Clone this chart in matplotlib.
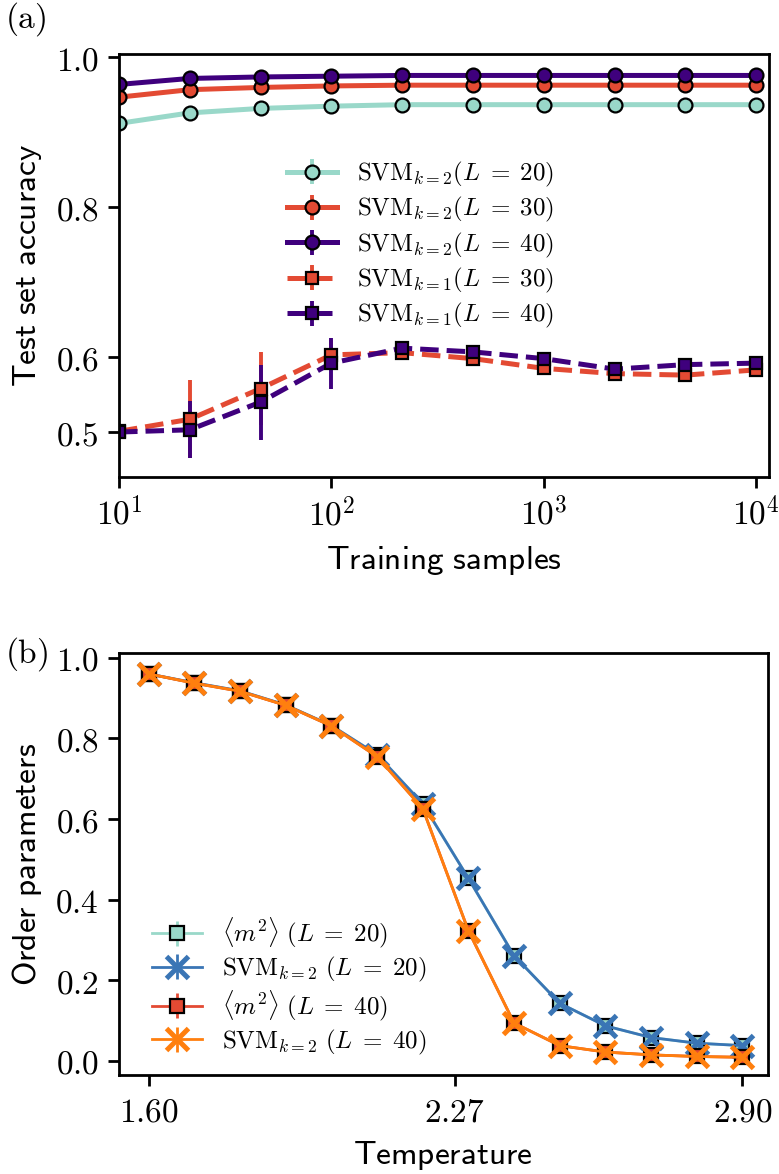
import numpy as np
import matplotlib
matplotlib.use("Agg")
from matplotlib import pyplot as plt
from matplotlib.ticker import FixedLocator, FuncFormatter, NullLocator

plt.rcParams['mathtext.fontset'] = 'cm'
plt.rcParams['axes.linewidth'] = 1.0

# (a) test accuracy vs number of training samples
n_train = [10, 21.5, 46.4, 100, 215, 464, 1000, 2154, 4642, 10000]

acc_k2_L20 = [0.912, 0.926, 0.932, 0.935, 0.937, 0.937, 0.937, 0.937, 0.937, 0.937]
acc_k2_L30 = [0.947, 0.957, 0.960, 0.962, 0.963, 0.963, 0.963, 0.963, 0.963, 0.963]
acc_k2_L40 = [0.964, 0.972, 0.974, 0.975, 0.976, 0.976, 0.976, 0.976, 0.976, 0.976]
err_k2 = [0.003, 0.002, 0.002, 0.001, 0.001, 0.001, 0.001, 0.001, 0.001, 0.001]

acc_k1_L30 = [0.501, 0.517, 0.558, 0.603, 0.606, 0.598, 0.585, 0.578, 0.576, 0.583]
err_k1_L30 = [0.003, 0.052, 0.049, 0.020, 0.006, 0.005, 0.004, 0.004, 0.004, 0.003]
acc_k1_L40 = [0.500, 0.503, 0.540, 0.592, 0.612, 0.607, 0.598, 0.584, 0.590, 0.592]
err_k1_L40 = [0.003, 0.038, 0.050, 0.034, 0.006, 0.005, 0.004, 0.004, 0.003, 0.003]

# (b) order parameters vs temperature
temps = [1.6, 1.7, 1.8, 1.9, 2.0, 2.1, 2.2, 2.3, 2.4, 2.5, 2.6, 2.7, 2.8, 2.9]
m2_L20 = [0.960, 0.938, 0.918, 0.883, 0.832, 0.760, 0.638, 0.453, 0.261, 0.143, 0.087, 0.058, 0.044, 0.038]
svm_L20 = [0.960, 0.938, 0.918, 0.883, 0.832, 0.760, 0.638, 0.453, 0.261, 0.143, 0.087, 0.058, 0.044, 0.038]
m2_L40 = [0.960, 0.937, 0.917, 0.882, 0.831, 0.755, 0.626, 0.323, 0.094, 0.038, 0.022, 0.015, 0.011, 0.009]
svm_L40 = [0.960, 0.937, 0.917, 0.882, 0.831, 0.755, 0.626, 0.323, 0.094, 0.038, 0.022, 0.015, 0.011, 0.009]
err_T = [0.003] * 14

teal = '#99d8c9'
red = '#e34a33'
purple = '#3f007d'
blue = '#3a75b5'
orange = '#ff7f0e'

fs = 12
lfs = 9

fig = plt.figure(figsize=(779 / 200, 1174 / 200), dpi=200)
ax1 = fig.add_axes([0.1528, 0.5937, 0.8345, 0.3599])
ax2 = fig.add_axes([0.1528, 0.0843, 0.8325, 0.3595])

ax1.errorbar(n_train, acc_k2_L20, yerr=err_k2, color=teal, lw=1.8, marker='o', ms=5,
             mfc=teal, mec='k', mew=0.8, elinewidth=1.4, label=r'$\mathrm{SVM}_{k=2}(L\;=\;20)$')
ax1.errorbar(n_train, acc_k2_L30, yerr=err_k2, color=red, lw=1.8, marker='o', ms=5,
             mfc=red, mec='k', mew=0.8, elinewidth=1.4, label=r'$\mathrm{SVM}_{k=2}(L\;=\;30)$')
ax1.errorbar(n_train, acc_k2_L40, yerr=err_k2, color=purple, lw=1.8, marker='o', ms=5,
             mfc=purple, mec='k', mew=0.8, elinewidth=1.4, label=r'$\mathrm{SVM}_{k=2}(L\;=\;40)$')
ax1.errorbar(n_train, acc_k1_L30, yerr=err_k1_L30, color=red, lw=1.8, ls='--', marker='s', ms=4.5,
             mfc=red, mec='k', mew=0.8, elinewidth=1.4, label=r'$\mathrm{SVM}_{k=1}(L\;=\;30)$')
ax1.errorbar(n_train, acc_k1_L40, yerr=err_k1_L40, color=purple, lw=1.8, ls='--', marker='s', ms=4.5,
             mfc=purple, mec='k', mew=0.8, elinewidth=1.4, label=r'$\mathrm{SVM}_{k=1}(L\;=\;40)$')

ax1.set_xscale('log')
ax1.set_xlim(10, 11500)
ax1.set_ylim(0.44, 1.004)
ax1.xaxis.set_major_locator(FixedLocator([10, 100, 1000, 10000]))
ax1.xaxis.set_minor_locator(NullLocator())
ax1.xaxis.set_major_formatter(FuncFormatter(lambda v, p: r'$10^{%d}$' % round(np.log10(v))))
ax1.yaxis.set_major_locator(FixedLocator([0.5, 0.6, 0.8, 1.0]))
ax1.yaxis.set_major_formatter(FuncFormatter(lambda v, p: r'$%.1f$' % v))
ax1.set_xlabel(r'$\mathsf{Training\ samples}$', fontsize=fs)
ax1.set_ylabel(r'$\mathsf{Test\ set\ accuracy}$', fontsize=fs)
ax1.legend(loc='upper left', bbox_to_anchor=(0.243, 0.774), frameon=False, fontsize=lfs,
           borderaxespad=0, labelspacing=0.25)

ax2.errorbar(temps, m2_L20, yerr=err_T, color=teal, lw=1.0, marker='s', ms=5,
             mfc=teal, mec='k', mew=0.8, label=r'$\langle m^2\rangle\ (L\;=\;20)$')
ax2.errorbar(temps, svm_L20, yerr=err_T, color=blue, lw=1.0, marker='x', ms=8,
             mew=1.8, label=r'$\mathrm{SVM}_{k=2}\ (L\;=\;20)$')
ax2.errorbar(temps, m2_L40, yerr=err_T, color=red, lw=1.0, marker='s', ms=5,
             mfc=red, mec='k', mew=0.8, label=r'$\langle m^2\rangle\ (L\;=\;40)$')
ax2.errorbar(temps, svm_L40, yerr=err_T, color=orange, lw=1.0, marker='x', ms=8,
             mew=1.8, label=r'$\mathrm{SVM}_{k=2}\ (L\;=\;40)$')

ax2.set_xlim(1.535, 2.955)
ax2.set_ylim(-0.035, 1.012)
ax2.xaxis.set_major_locator(FixedLocator([1.60, 2.27, 2.90]))
ax2.xaxis.set_major_formatter(FuncFormatter(lambda v, p: r'$%.2f$' % v))
ax2.yaxis.set_major_locator(FixedLocator([0.0, 0.2, 0.4, 0.6, 0.8, 1.0]))
ax2.yaxis.set_major_formatter(FuncFormatter(lambda v, p: r'$%.1f$' % v))
ax2.set_xlabel(r'$\mathsf{Temperature}$', fontsize=fs)
ax2.set_ylabel(r'$\mathsf{Order\ parameters}$', fontsize=fs)
ax2.legend(loc='lower left', bbox_to_anchor=(0.035, 0.02), frameon=False, fontsize=lfs,
           borderaxespad=0, labelspacing=0.18)

for ax in (ax1, ax2):
    ax.tick_params(labelsize=fs, width=1.0, length=3.8)

fig.text(0.007, 0.984, r'$\mathrm{(a)}$', fontsize=fs, va='center')
fig.text(0.007, 0.443, r'$\mathrm{(b)}$', fontsize=fs, va='center')

fig.savefig('out.png', dpi=200)
